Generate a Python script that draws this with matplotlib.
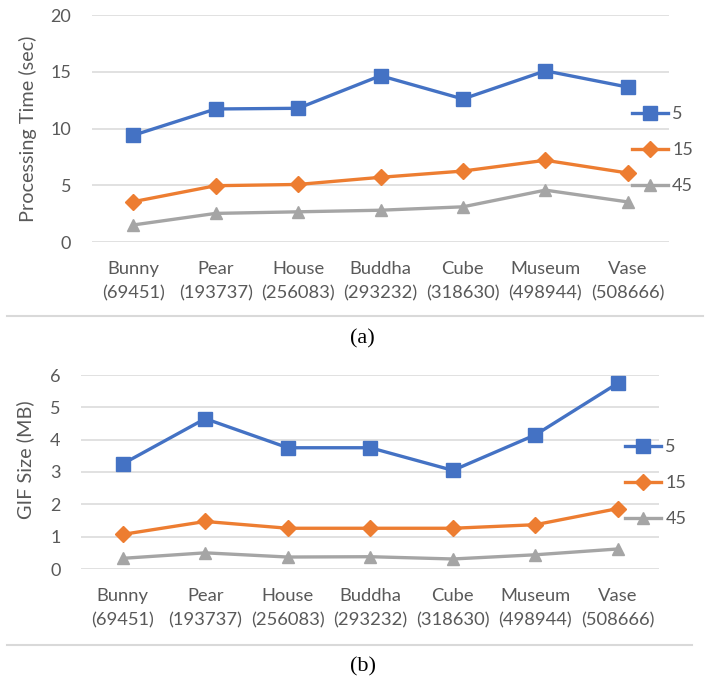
import matplotlib
matplotlib.use("Agg")
import matplotlib.pyplot as plt
from matplotlib.lines import Line2D

names = ["Bunny", "Pear", "House", "Buddha", "Cube", "Museum", "Vase"]
counts = ["69451", "193737", "256083", "293232", "318630", "498944", "508666"]
series_labels = ["5", "15", "45"]

time_5 = [9.4, 11.72, 11.78, 14.65, 12.6, 15.08, 13.65]
time_15 = [3.55, 4.96, 5.07, 5.7, 6.25, 7.2, 6.08]
time_45 = [1.5, 2.52, 2.66, 2.8, 3.1, 4.57, 3.53]

gif_5 = [3.25, 4.65, 3.75, 3.75, 3.05, 4.15, 5.75]
gif_15 = [1.07, 1.47, 1.26, 1.26, 1.26, 1.37, 1.87]
gif_45 = [0.33, 0.5, 0.37, 0.38, 0.31, 0.44, 0.62]

colors = ["#4472C4", "#ED7D31", "#A5A5A5"]
markers = ["s", "D", "^"]
msizes = [9.5, 8, 9]
txt = "#595959"
font = "Lato"
W, H = 710, 679

plt.rcParams["font.family"] = [font, "DejaVu Sans"]

fig = plt.figure(figsize=(W / 100, H / 100), dpi=100)


def draw(ax, data, ylim, yticks, ylabel, leg_x, leg_y, lab_x, lab_y):
    x = list(range(len(names)))
    handles = []
    for vals, c, m, ms, lab in zip(data, colors, markers, msizes, series_labels):
        h, = ax.plot(x, vals, color=c, lw=2.4, marker=m, ms=ms, label=lab, zorder=3)
        handles.append(h)
    ax.set_xlim(-0.5, len(names) - 0.5)
    ax.set_ylim(*ylim)
    ax.set_yticks(yticks)
    ax.set_xticks(x)
    ax.set_xticklabels([f"{n}\n({c})" for n, c in zip(names, counts)], linespacing=1.6)
    ax.tick_params(axis="both", length=0, colors=txt)
    ax.tick_params(axis="x", pad=14, labelsize=13.2)
    ax.tick_params(axis="y", pad=15, labelsize=13)
    ax.grid(axis="y", color="#D9D9D9", lw=1.1)
    ax.set_axisbelow(True)
    for s in ax.spines.values():
        s.set_visible(False)
    ax.set_ylabel(ylabel, fontsize=14.3, color=txt)
    ax.yaxis.set_label_coords(lab_x, lab_y)
    leg = ax.legend(handles=handles, loc="center left", bbox_to_anchor=(leg_x, leg_y),
                    frameon=False, fontsize=13, handlelength=2.0, handletextpad=0.22,
                    labelspacing=1.12, borderpad=0, borderaxespad=0)
    for t in leg.get_texts():
        t.set_color(txt)


ax1 = fig.add_axes([92 / W, 1 - 242 / H, 577 / W, 227 / H])
draw(ax1, [time_5, time_15, time_45], (0, 20), [0, 5, 10, 15, 20],
     "Processing Time (sec)", 0.936, 0.405, -0.0953, 0.498)

ax2 = fig.add_axes([81.4 / W, 1 - 569 / H, 577.9 / W, 194 / H])
draw(ax2, [gif_5, gif_15, gif_45], (0, 6), [0, 1, 2, 3, 4, 5, 6],
     "GIF Size (MB)", 0.941, 0.443, -0.082, 0.562)

# separator lines and captions
fig.add_artist(Line2D([7 / W, 703 / W], [1 - 316 / H] * 2, color="#D9D9D9", lw=1.5))
fig.add_artist(Line2D([7 / W, 692 / W], [1 - 645 / H] * 2, color="#D9D9D9", lw=1.5))
fig.text(362 / W, 1 - 339 / H, "(a)", ha="center", va="center", fontsize=16,
         family="Liberation Serif", color="black")
fig.text(363 / W, 1 - 667 / H, "(b)", ha="center", va="center", fontsize=16,
         family="Liberation Serif", color="black")

fig.savefig("out.png", dpi=100, facecolor="white")
